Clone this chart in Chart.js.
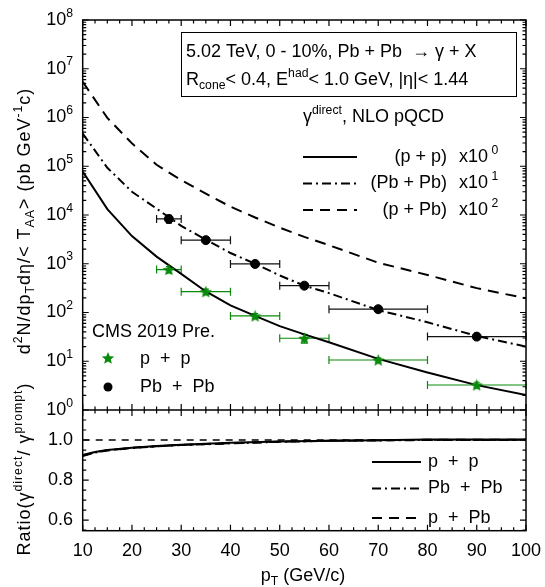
<!DOCTYPE html>
<html>
<head>
<meta charset="utf-8">
<script src="https://cdn.jsdelivr.net/npm/chart.js@4.4.1/dist/chart.umd.min.js"></script>
<style>
  html, body { margin: 0; padding: 0; background: #fff; }
  canvas { display: block; }
</style>
</head>
<body>
<canvas id="chart" width="545" height="587"></canvas>
<script>
// NLO pQCD curves
const ptGrid = [10, 15, 20, 25, 30, 35, 40, 45, 50, 55, 60, 70, 80, 90, 100];
const ppCurve = [78000, 13200, 3700, 1400, 620, 270, 140, 85, 52.5, 35.5, 24.5, 11.2, 5.9, 3.24, 2.04];
const pbpbCurve = [470000, 93000, 30000, 13500, 6000, 3100, 1660, 1000, 575, 355, 250, 112, 63, 33, 20];
const ppbCurve = [5400000, 980000, 295000, 107000, 52000, 27500, 14800, 8900, 5500, 3550, 2400, 1050, 590, 316, 195];

// ratio panel
const ratioGrid = [10, 12.5, 15, 20, 25, 30, 40, 50, 60, 70, 80, 90, 100];
const ratioPP = [0.925, 0.94, 0.95, 0.962, 0.97, 0.977, 0.986, 0.993, 0.997, 0.999, 1.002, 1.002, 1.003];
const ratioPbPb = [0.92, 0.937, 0.948, 0.96, 0.968, 0.975, 0.983, 0.991, 0.996, 0.998, 1.0, 1.0, 1.001];
const ratioPPb = [0.922, 0.939, 0.949, 0.961, 0.969, 0.976, 0.984, 0.992, 0.996, 0.999, 1.001, 1.001, 1.002];
const unityX = [10, 100];
const unityY = [1, 1];

// CMS 2019 preliminary points
const binCenter = [27.5, 35, 45, 55, 70, 90];
const binLow = [25, 30, 40, 50, 60, 80];
const binHigh = [30, 40, 50, 60, 80, 100];
const ppData = [760, 267, 85, 29.6, 10.6, 3.26];
const ppErr = [110, 35, 10, 6, 1.2, 0.45];
const pbpbData = [8300, 3050, 990, 355, 117, 32];
const pbpbErr = [1500, 250, 70, 30, 10, 3];

const xTicks = [10, 20, 30, 40, 50, 60, 70, 80, 90, 100];
const logTicks = [0, 1, 2, 3, 4, 5, 6, 7, 8];
const ratioTicks = ["0.6", "0.8", "1.0"];

const FONT = '"Liberation Sans", Arial, Helvetica, sans-serif';
const GREEN = "#0a8a0a";

function pts(xs, ys) {
    return xs.map((x, i) => ({ x: x, y: ys[i] }));
}

function starPath(ctx, cx, cy, r) {
    ctx.beginPath();
    for (let i = 0; i < 10; i++) {
        const a = -Math.PI / 2 + i * Math.PI / 5;
        const rr = i % 2 ? r * 0.45 : r;
        ctx.lineTo(cx + rr * Math.cos(a), cy + rr * Math.sin(a));
    }
    ctx.closePath();
}

const starImg = document.createElement("canvas");
starImg.width = 13;
starImg.height = 13;
(function () {
    const c = starImg.getContext("2d");
    c.fillStyle = GREEN;
    starPath(c, 6.5, 7, 6.5);
    c.fill();
})();

// text with sub/superscripts, parts = [[text, kind]] kind: 0 normal, 1 sup, -1 sub
function rich(ctx, parts, x, y, size, align) {
    ctx.textBaseline = "middle";
    let w = 0;
    const sized = parts.map(p => {
        const s = p[1] ? size * 0.68 : size;
        ctx.font = s + "px " + FONT;
        const m = ctx.measureText(p[0]).width;
        w += m;
        return { t: p[0], k: p[1], s: s, w: m };
    });
    let cx = x;
    if (align === "center") cx = x - w / 2;
    if (align === "right") cx = x - w;
    sized.forEach(p => {
        ctx.font = p.s + "px " + FONT;
        let dy = 0;
        if (p.k === 1) dy = -size * 0.38;
        if (p.k === -1) dy = size * 0.3;
        ctx.fillText(p.t, cx, y + dy);
        cx += p.w;
    });
    return w;
}

const framePlugin = {
    id: "frame",
    beforeDatasetsDraw(chart) {
        const ctx = chart.ctx;
        const xs = chart.scales.x;
        const ys = chart.scales.y;
        ctx.save();
        ctx.lineWidth = 1.2;
        const bars = [[ppData, ppErr, GREEN], [pbpbData, pbpbErr, "#111"]];
        bars.forEach(b => {
            ctx.strokeStyle = b[2];
            b[0].forEach((v, i) => {
                const y = ys.getPixelForValue(v);
                const x = xs.getPixelForValue(binCenter[i]);
                const x0 = xs.getPixelForValue(binLow[i]);
                const x1 = xs.getPixelForValue(binHigh[i]);
                const y0 = ys.getPixelForValue(v - b[1][i]);
                const y1 = ys.getPixelForValue(v + b[1][i]);
                ctx.beginPath();
                ctx.moveTo(x0, y); ctx.lineTo(x1, y);
                ctx.moveTo(x0, y - 4); ctx.lineTo(x0, y + 4);
                ctx.moveTo(x1, y - 4); ctx.lineTo(x1, y + 4);
                ctx.moveTo(x, y0); ctx.lineTo(x, y1);
                ctx.moveTo(x - 3, y0); ctx.lineTo(x + 3, y0);
                ctx.moveTo(x - 3, y1); ctx.lineTo(x + 3, y1);
                ctx.stroke();
            });
        });
        ctx.restore();
    },
    afterDraw(chart) {
        const ctx = chart.ctx;
        const xs = chart.scales.x;
        const ys = chart.scales.y;
        const yr = chart.scales.yr;
        const L = xs.left, R = xs.right;
        const T = ys.top, M = ys.bottom, B = yr.bottom;
        ctx.save();
        ctx.strokeStyle = "#000";
        ctx.fillStyle = "#000";
        ctx.lineWidth = 1.5;
        ctx.strokeRect(L, T, R - L, B - T);
        ctx.beginPath();
        ctx.moveTo(L, M); ctx.lineTo(R, M);
        ctx.stroke();

        ctx.lineWidth = 1.2;
        ctx.beginPath();
        // x ticks every 2.5
        for (let v = 10; v <= 100.01; v += 2.5) {
            const x = xs.getPixelForValue(v);
            const len = v % 10 === 0 ? 6 : 3.5;
            ctx.moveTo(x, T); ctx.lineTo(x, T + len);
            ctx.moveTo(x, M); ctx.lineTo(x, M - len);
            ctx.moveTo(x, M); ctx.lineTo(x, M + len);
            ctx.moveTo(x, B); ctx.lineTo(x, B - len);
        }
        // log ticks
        logTicks.forEach(n => {
            const y = ys.getPixelForValue(Math.pow(10, n));
            ctx.moveTo(L, y); ctx.lineTo(L + 6, y);
            ctx.moveTo(R, y); ctx.lineTo(R - 6, y);
            if (n < 8) {
                for (let k = 2; k <= 9; k++) {
                    const ym = ys.getPixelForValue(k * Math.pow(10, n));
                    ctx.moveTo(L, ym); ctx.lineTo(L + 3.5, ym);
                    ctx.moveTo(R, ym); ctx.lineTo(R - 3.5, ym);
                }
            }
        });
        // ratio ticks every 0.05
        for (let k = 11; k <= 23; k++) {
            const v = k * 0.05;
            const y = yr.getPixelForValue(v);
            const len = k % 4 === 0 ? 6 : 3.5;
            ctx.moveTo(L, y); ctx.lineTo(L + len, y);
            ctx.moveTo(R, y); ctx.lineTo(R - len, y);
        }
        ctx.stroke();

        // tick labels
        xTicks.forEach(v => {
            ctx.font = "18px " + FONT;
            ctx.textAlign = "center";
            ctx.textBaseline = "middle";
            ctx.fillText(String(v), xs.getPixelForValue(v), 551);
        });
        ctx.textAlign = "left";
        logTicks.forEach(n => {
            rich(ctx, [["10", 0], [String(n), 1]], 73, ys.getPixelForValue(Math.pow(10, n)), 18, "right");
        });
        ratioTicks.forEach(t => {
            rich(ctx, [[t, 0]], 73, yr.getPixelForValue(parseFloat(t)), 18, "right");
        });

        // axis titles
        rich(ctx, [["p", 0], ["T", -1], [" (GeV/c)", 0]], 303, 576, 18, "center");
        ctx.save();
        ctx.letterSpacing = "1px";
        ctx.translate(25, 221);
        ctx.rotate(-Math.PI / 2);
        rich(ctx, [["d", 0], ["2", 1], ["N/dp", 0], ["T", -1], ["d\u03b7/< T", 0], ["AA", -1], ["> (pb GeV", 0], ["-1", 1], ["c)", 0]], 0, 0, 18, "center");
        ctx.restore();
        ctx.save();
        ctx.letterSpacing = "1px";
        ctx.translate(25, 469);
        ctx.rotate(-Math.PI / 2);
        rich(ctx, [["Ratio(\u03b3", 0], ["direct", 1], ["/ \u03b3", 0], ["prompt", 1], [")", 0]], 0, 0, 18, "center");
        ctx.restore();

        // info box
        ctx.lineWidth = 1;
        ctx.strokeRect(181.5, 32.5, 335, 64);
        rich(ctx, [["5.02 TeV, 0 - 10%, Pb + Pb  \u2192 \u03b3 + X", 0]], 186, 52, 18, "left");
        rich(ctx, [["R", 0], ["cone", -1], ["< 0.4, E", 0], ["had", 1], ["< 1.0 GeV, |\u03b7|< 1.44", 0]], 186, 80, 18, "left");

        // model legend
        rich(ctx, [["\u03b3", 0], ["direct", 1], [", NLO pQCD", 0]], 303, 117, 18, "left");
        const rows = [
            ["(p + p)", "0", [], 157],
            ["(Pb + Pb)", "1", [9, 4, 2, 4], 183.5],
            ["(p + Pb)", "2", [10, 7], 210]
        ];
        ctx.lineWidth = 2;
        rows.forEach(r => {
            ctx.setLineDash(r[2]);
            ctx.beginPath();
            ctx.moveTo(303, r[3]); ctx.lineTo(357, r[3]);
            ctx.stroke();
            ctx.setLineDash([]);
            rich(ctx, [[r[0], 0]], 447, r[3], 18, "right");
            rich(ctx, [["x10", 0], [" " + r[1], 1]], 459, r[3], 18, "left");
        });

        // data legend
        rich(ctx, [["CMS 2019 Pre.", 0]], 92, 332, 18, "left");
        ctx.fillStyle = GREEN;
        starPath(ctx, 108, 358.5, 6.5);
        ctx.fill();
        ctx.fillStyle = "#000";
        ctx.beginPath();
        ctx.arc(108, 387, 4.5, 0, Math.PI * 2);
        ctx.fill();
        rich(ctx, [["p  +  p", 0]], 140, 359, 18, "left");
        rich(ctx, [["Pb  +  Pb", 0]], 140, 387, 18, "left");

        // ratio legend
        const rrows = [["p  +  p", [], 462], ["Pb  +  Pb", [9, 4, 2, 4], 488.5], ["p  +  Pb", [10, 7], 518]];
        ctx.lineWidth = 2;
        rrows.forEach(r => {
            ctx.setLineDash(r[1]);
            ctx.beginPath();
            ctx.moveTo(372, r[2]); ctx.lineTo(421, r[2]);
            ctx.stroke();
            ctx.setLineDash([]);
            rich(ctx, [[r[0], 0]], 428, r[2], 18, "left");
        });
        ctx.restore();
    }
};

new Chart(document.getElementById("chart"), {
    type: "scatter",
    data: {
        datasets: [
            { label: "p+p data", data: pts(binCenter, ppData), yAxisID: "y", pointStyle: starImg, order: 0 },
            { label: "Pb+Pb data", data: pts(binCenter, pbpbData), yAxisID: "y", pointRadius: 4.5,
              backgroundColor: "#000", borderColor: "#000", order: 0 },
            { label: "pp NLO", data: pts(ptGrid, ppCurve), yAxisID: "y", showLine: true, pointRadius: 0,
              borderColor: "#000", borderWidth: 2, order: 1 },
            { label: "PbPb NLO", data: pts(ptGrid, pbpbCurve), yAxisID: "y", showLine: true, pointRadius: 0,
              borderColor: "#000", borderWidth: 2, borderDash: [9, 4, 2, 4], order: 1 },
            { label: "pPb NLO", data: pts(ptGrid, ppbCurve), yAxisID: "y", showLine: true, pointRadius: 0,
              borderColor: "#000", borderWidth: 2, borderDash: [11, 7], order: 1 },
            { label: "unity", data: pts(unityX, unityY), yAxisID: "yr", showLine: true, pointRadius: 0,
              borderColor: "#000", borderWidth: 1.5, borderDash: [7, 6], order: 1 },
            { label: "pp ratio", data: pts(ratioGrid, ratioPP), yAxisID: "yr", showLine: true, pointRadius: 0,
              borderColor: "#000", borderWidth: 2, order: 1 },
            { label: "PbPb ratio", data: pts(ratioGrid, ratioPbPb), yAxisID: "yr", showLine: true, pointRadius: 0,
              borderColor: "#000", borderWidth: 2, borderDash: [9, 4, 2, 4], order: 1 },
            { label: "pPb ratio", data: pts(ratioGrid, ratioPPb), yAxisID: "yr", showLine: true, pointRadius: 0,
              borderColor: "#000", borderWidth: 2, borderDash: [10, 7], order: 1 }
        ]
    },
    options: {
        responsive: false,
        animation: false,
        events: [],
        layout: { padding: { left: 0, right: 19, top: 20, bottom: 0 } },
        plugins: { legend: { display: false }, tooltip: { enabled: false } },
        scales: {
            x: {
                type: "linear", min: 10, max: 100,
                grid: { display: false }, border: { display: false },
                ticks: { display: false },
                afterFit: s => { s.height = 56.3; }
            },
            // left boxes are stacked in reverse order, so the ratio scale is listed first
            yr: {
                type: "linear", min: 0.547, max: 1.15, position: "left",
                stack: "panels", stackWeight: 120.7,
                grid: { display: false }, border: { display: false },
                ticks: { display: false },
                afterFit: s => { s.width = 82.7; }
            },
            y: {
                type: "logarithmic", min: 1, max: 1e8, position: "left",
                stack: "panels", stackWeight: 390,
                grid: { display: false }, border: { display: false },
                ticks: { display: false },
                afterFit: s => { s.width = 82.7; }
            }
        }
    },
    plugins: [framePlugin]
});
</script>
</body>
</html>
